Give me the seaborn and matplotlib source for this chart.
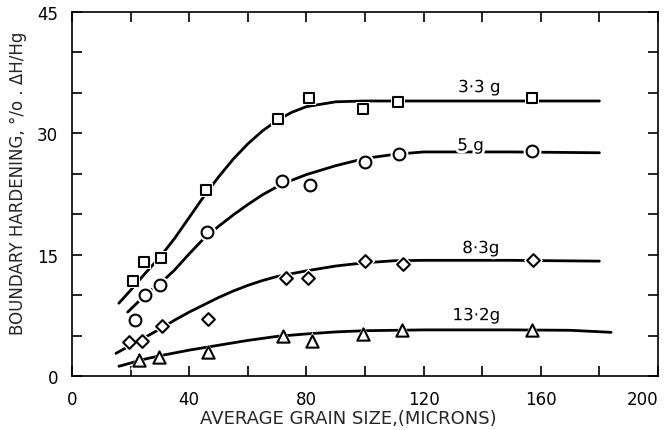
import matplotlib
matplotlib.use("Agg")
import matplotlib.pyplot as plt
import matplotlib.patheffects as pe
import seaborn as sns
import pandas as pd

# Measured points: average grain size (microns) vs boundary hardening (%)
sq_x = [20.8, 24.6, 30.4, 45.7, 70.3, 80.9, 99.3, 111.3, 157.0]
sq_y = [11.7, 14.1, 14.6, 23.0, 31.8, 34.4, 33.0, 33.9, 34.4]

ci_x = [21.5, 24.9, 30.0, 46.0, 71.7, 81.2, 100.0, 111.6, 157.0]
ci_y = [6.9, 10.0, 11.2, 17.8, 24.1, 23.6, 26.4, 27.4, 27.8]

di_x = [19.5, 23.8, 30.6, 46.4, 73.1, 80.6, 100.0, 113.0, 157.4]
di_y = [4.2, 4.3, 6.2, 7.0, 12.1, 12.1, 14.2, 13.8, 14.3]

tr_x = [22.9, 29.7, 46.4, 72.0, 81.9, 99.4, 112.6, 157.0]
tr_y = [2.0, 2.4, 3.0, 4.9, 4.3, 5.2, 5.7, 5.7]

# Hand-drawn trend curves through each series
sq_fit_x = [16, 20, 25, 30, 35, 40, 45, 50, 55, 60, 65, 70, 75, 80, 90, 100, 120, 150, 180]
sq_fit_y = [9.0, 10.6, 12.7, 14.7, 17.0, 19.6, 22.2, 24.6, 26.8, 28.7, 30.3, 31.6, 32.6,
            33.3, 33.9, 34.0, 34.0, 34.0, 34.0]

ci_fit_x = [19, 23, 26, 30, 35, 40, 45, 50, 55, 60, 65, 70, 75, 80, 90, 100, 110, 120, 150, 180]
ci_fit_y = [7.9, 9.3, 10.4, 11.4, 13.1, 15.1, 17.0, 18.5, 19.9, 21.2, 22.4, 23.4, 24.2,
            24.9, 26.0, 26.9, 27.4, 27.7, 27.7, 27.6]

di_fit_x = [15, 20, 25, 30, 35, 40, 45, 50, 55, 60, 65, 70, 80, 90, 100, 110, 120, 150, 180]
di_fit_y = [2.8, 3.8, 4.8, 5.8, 6.9, 7.9, 8.8, 9.7, 10.5, 11.2, 11.8, 12.3, 13.0, 13.6,
            14.0, 14.25, 14.3, 14.3, 14.2]

tr_fit_x = [16, 20, 25, 30, 35, 40, 45, 50, 60, 70, 80, 90, 100, 120, 150, 170, 184]
tr_fit_y = [1.2, 1.6, 2.1, 2.5, 2.85, 3.2, 3.5, 3.8, 4.4, 4.9, 5.2, 5.45, 5.6, 5.7, 5.7,
            5.65, 5.4]

loads = ["3\u00b73 g", "5 g", "8\u00b73g", "13\u00b72g"]
label_x = [139.0, 136.0, 139.5, 138.0]
label_y = [35.1, 27.9, 15.2, 6.9]

x_labeled = [0, 40, 80, 120, 160, 200]
y_labeled = [0, 15, 30, 45]

sns.set_theme(style="ticks")
plt.rcParams["font.family"] = ["DejaVu Sans"]

fig = plt.figure(figsize=(6.71, 4.31), dpi=100)
ax = fig.add_axes([0.1073, 0.1253, 0.8733, 0.8445])

series = [
    (sq_x, sq_y, sq_fit_x, sq_fit_y, "s", 48),
    (ci_x, ci_y, ci_fit_x, ci_fit_y, "o", 72),
    (di_x, di_y, di_fit_x, di_fit_y, "D", 42),
    (tr_x, tr_y, tr_fit_x, tr_fit_y, "^", 78),
]

for px, py, fx, fy, mk, sz in series:
    fit = pd.DataFrame({"x": fx, "y": fy})
    pts = pd.DataFrame({"x": px, "y": py})
    sns.lineplot(data=fit, x="x", y="y", ax=ax, color="black", lw=2.0,
                 zorder=2, sort=False)
    # white halo leaves a small gap in the curve around each marker
    sns.scatterplot(data=pts, x="x", y="y", ax=ax, marker=mk, s=sz * 2.3,
                    color="white", edgecolor="white", linewidth=0, zorder=3)
    sns.scatterplot(data=pts, x="x", y="y", ax=ax, marker=mk, s=sz,
                    facecolor="white", edgecolor="black", linewidth=1.5, zorder=4)

for txt, lx, ly in zip(loads, label_x, label_y):
    ax.text(lx, ly, txt, ha="center", va="baseline", fontsize=12, color="black",
            zorder=5, path_effects=[pe.withStroke(linewidth=4, foreground="white")])

ax.set_xlim(0, 200)
ax.set_ylim(0, 45)
ax.set_xticks(range(0, 201, 20))
ax.set_xticklabels([str(v) if v in x_labeled else "" for v in range(0, 201, 20)])
ax.set_yticks(range(0, 46, 5))
ax.set_yticklabels([str(v) if v in y_labeled else "" for v in range(0, 46, 5)])
ax.tick_params(direction="in", length=7, width=1.2, top=True, right=True,
               labelsize=12, colors="black")
ax.tick_params(axis="x", pad=10)
ax.tick_params(axis="y", pad=10)
ax.get_xticklabels()[-1].set_horizontalalignment("right")
for sp in ax.spines.values():
    sp.set_visible(True)
    sp.set_linewidth(1.2)
    sp.set_color("black")

ax.set_xlabel("AVERAGE GRAIN SIZE,(MICRONS)", fontsize=13)
ax.xaxis.set_label_coords(0.471, -0.092)
ax.set_ylabel("BOUNDARY HARDENING, \u00b0/o . \u0394H/Hg", fontsize=12)
ax.yaxis.set_label_coords(-0.077, 0.533)

fig.savefig("out.png", dpi=100)
